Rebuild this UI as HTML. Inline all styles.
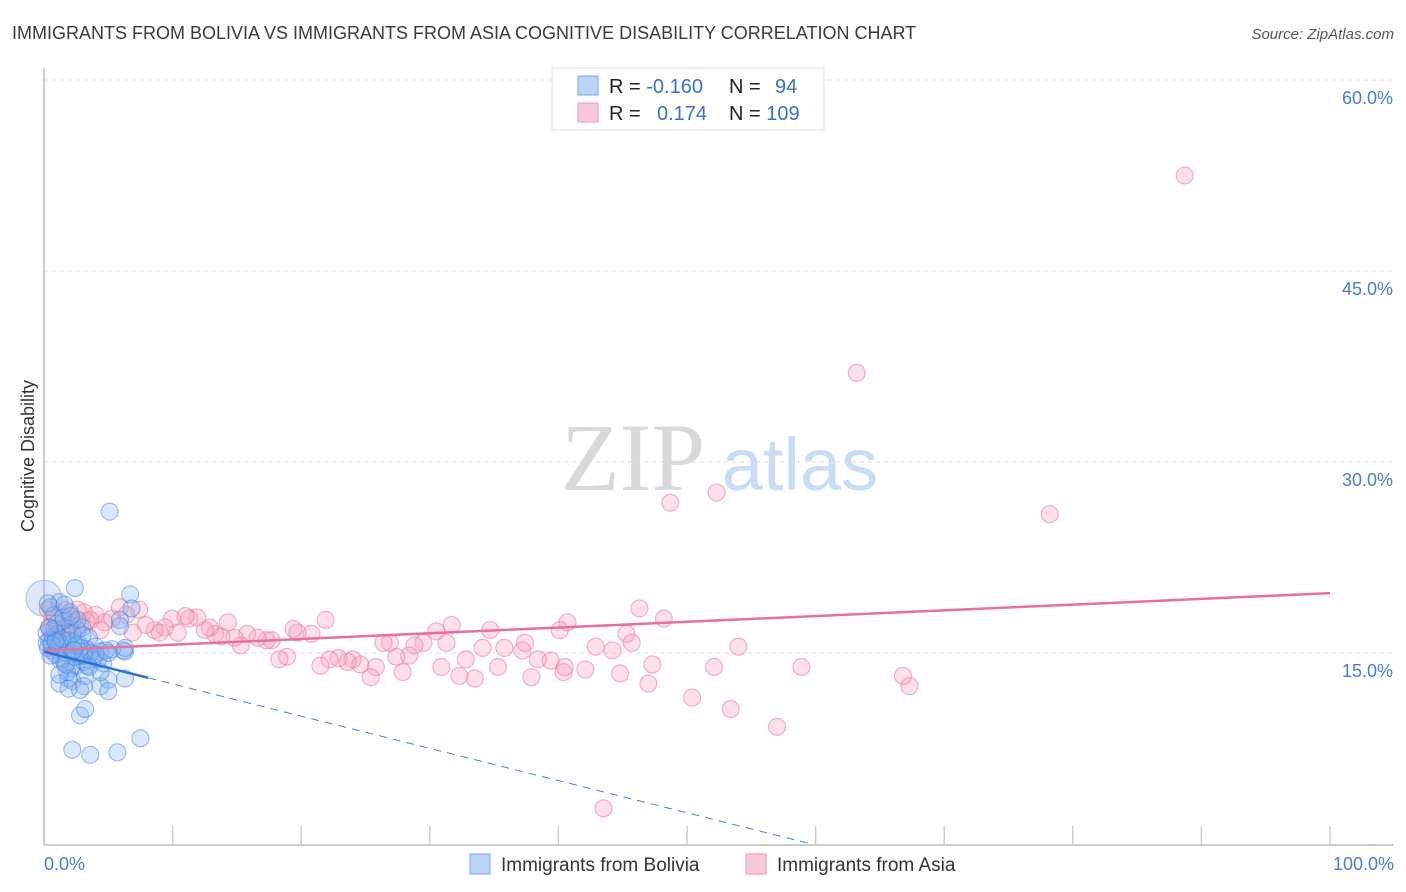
<!DOCTYPE html>
<html><head><meta charset="utf-8"><style>
body{margin:0;background:#fff;font-family:"Liberation Sans",sans-serif;}
svg{display:block}
</style></head><body>
<svg id="chart" width="1406" height="892" font-family="Liberation Sans, sans-serif">
<text x="12" y="39" font-size="18" fill="#3a3a3a">IMMIGRANTS FROM BOLIVIA VS IMMIGRANTS FROM ASIA COGNITIVE DISABILITY CORRELATION CHART</text>
<text x="1394" y="39" font-size="15" fill="#555" font-style="italic" text-anchor="end">Source: ZipAtlas.com</text>
<g>
<text x="633" y="490" font-size="96" fill="#d8d8d8" font-family="Liberation Serif, serif" text-anchor="middle">ZIP</text>
<text x="800" y="490" font-size="74" fill="#c9dcf3" text-anchor="middle">atlas</text>
</g>
<g id="grid"></g>
<g id="axes"></g>
<g id="marks"></g>
<g id="trends"></g>
<text transform="translate(34,456) rotate(-90)" font-size="18" fill="#333" text-anchor="middle">Cognitive Disability</text>
<text x="44" y="870" font-size="18" fill="#4a7bd4">0.0%</text>
<text x="1394" y="870" font-size="18" fill="#4a7bd4" text-anchor="end">100.0%</text>
<g>
<rect x="552" y="68" width="272" height="62" fill="#fff" stroke="#ddd"/>
<rect x="578" y="76" width="20" height="19" fill="#bcd4f6" stroke="#7aa6e6"/>
<rect x="578" y="103" width="20" height="19" fill="#f9c8d6" stroke="#ee9ab4"/>
<text x="609" y="93" font-size="20" fill="#222">R = <tspan fill="#3a6fd0">-0.160</tspan></text>
<text x="729" y="93" font-size="20" fill="#222">N = <tspan fill="#3a6fd0" x="775">94</tspan></text>
<text x="609" y="120" font-size="20" fill="#222">R = <tspan fill="#3a6fd0" x="657">0.174</tspan></text>
<text x="729" y="120" font-size="20" fill="#222">N = <tspan fill="#3a6fd0">109</tspan></text>
</g>
<g>
<rect x="470" y="854" width="20" height="20" fill="#bcd4f6" stroke="#7aa6e6"/>
<text x="501" y="871" font-size="19" fill="#333">Immigrants from Bolivia</text>
<rect x="746" y="854" width="20" height="20" fill="#f9c8d6" stroke="#ee9ab4"/>
<text x="777" y="871" font-size="19" fill="#333">Immigrants from Asia</text>
</g>
</svg>
<script>
const yTicks=[15,30,45,60];
const yTickLabels=["15.0%","30.0%","45.0%","60.0%"];
const xTicks=[10,20,30,40,50,60,70,80,90,100];
const blueX=[5.1,2.4,6.7,1.2,0.5,6.8,5.9,6.3,0.8,1.5,2.0,2.6,3.0,3.5,4.0,1.0,0.4,0.2,0.6,1.8,2.2,2.8,3.3,3.8,4.4,1.4,0.9,0.3,1.6,2.5,2.1,3.1,0.7,1.2,1.9,2.7,3.6,4.6,5.3,6.2,1.1,0.5,2.3,1.7,2.9,0.2,0.8,1.3,2.4,3.4,4.2,5.0,1.0,1.5,2.0,2.6,1.8,3.2,0.6,2.2,1.9,1.2,3.1,2.8,4.4,5.0,6.3,2.2,3.6,5.7,7.5,2.8,3.2,5.0,4.4,1.9,1.2,3.1,2.2,5.9,6.3,4.0,3.5,1.4,2.5,0.4,1.7,2.3,0.9,3.0,1.6,2.1,0.3,4.8];
const blueY=[26.1,20.1,19.6,19.0,18.6,18.5,17.6,15.1,18.0,17.5,17.2,16.8,17.0,16.2,15.5,16.5,16.0,15.8,15.2,15.6,15.0,14.8,15.3,14.5,15.1,14.6,14.9,15.4,14.2,14.0,13.8,14.3,16.3,15.9,16.0,15.7,15.0,14.2,15.3,15.2,15.5,14.8,15.8,15.0,15.4,16.6,16.9,14.4,14.7,14.0,14.5,15.0,17.3,17.8,18.2,17.6,13.5,13.2,15.7,12.8,13.0,12.6,12.4,12.1,12.4,12.9,13.0,7.4,7.0,7.2,8.3,10.1,10.6,12.0,13.5,12.2,13.3,14.8,16.5,17.1,15.4,14.9,13.9,16.1,15.6,17.0,14.1,15.2,15.9,16.4,18.8,17.9,18.9,15.2];
const pinkX=[88.7,63.2,52.3,48.7,78.2,43.5,57,53.4,50.4,67.3,66.8,58.9,52.1,54.0,48.2,46.3,45.3,45.7,44.2,42.9,40.7,40.1,39.4,37.9,37.2,37.4,35.8,35.3,34.1,34.7,33.5,32.3,32.8,31.7,31.3,30.5,30.9,29.5,28.8,28.4,27.9,27.4,26.9,26.4,25.8,25.4,24.6,24.0,23.6,22.9,22.2,21.5,21.9,20.8,19.7,19.4,18.9,18.3,17.7,17.3,16.6,15.8,15.3,14.8,14.3,13.8,13.3,12.9,12.5,11.9,11.3,11.0,10.4,9.95,9.4,9.0,8.6,7.9,7.4,6.9,6.4,5.9,5.3,4.7,4.0,3.6,3.1,2.6,2.2,1.7,1.2,0.8,0.5,0.3,0.9,1.6,2.8,4.4,47,47.3,44.8,42.1,40.4,38.4,40.5,1.0,2.0,3.3,0.4];
const pinkY=[52.5,37.0,27.6,26.8,25.9,2.8,9.2,10.6,11.5,12.4,13.2,13.9,13.9,15.5,17.7,18.5,16.5,15.8,15.2,15.5,17.4,16.8,14.4,13.1,15.2,15.8,15.4,13.9,15.4,16.8,13.0,13.2,14.5,17.2,15.8,16.7,13.9,15.8,15.6,14.8,13.5,14.7,15.8,15.8,13.9,13.1,14.1,14.5,14.3,14.6,14.5,14.0,17.6,16.5,16.6,16.9,14.7,14.5,16.0,16.0,16.2,16.5,15.6,16.2,17.4,16.3,16.5,17.0,16.8,17.8,17.7,17.9,16.6,17.7,17.0,16.6,16.8,17.2,18.4,16.6,18.0,18.6,17.7,17.4,18.0,17.6,18.2,18.4,17.6,18.4,17.2,17.7,16.8,18.4,16.0,17.0,17.2,16.8,12.6,14.1,13.4,13.7,13.5,14.5,13.9,16.5,16.9,17.5,17.0];
const blueTrend=[15.1,-0.253];
const pinkTrend=[15.2,0.045];
const NS="http://www.w3.org/2000/svg";
const X0=44,X1=1330,Y0=844,PXPER=191/15;
function sx(v){return X0+(X1-X0)*v/100;}
function sy(v){return Y0-v*PXPER;}
function mk(tag,attrs,parent){const e=document.createElementNS(NS,tag);for(const k in attrs)e.setAttribute(k,attrs[k]);parent.appendChild(e);return e;}
const grid=document.getElementById('grid'),axes=document.getElementById('axes'),marks=document.getElementById('marks'),trends=document.getElementById('trends');
yTicks.forEach((t,i)=>{
 const l=mk('line',{x1:X0,x2:1394,y1:sy(t),y2:sy(t),stroke:'#ddd','stroke-dasharray':'4,4'},grid);
 
 
 const tx=mk('text',{x:1393,y:sy(t)+24,'font-size':18,fill:'#4a7bd4','text-anchor':'end'},axes);
 tx.textContent=yTickLabels[i];
 
 
});
let a=mk('line',{x1:X0,x2:X0,y1:68,y2:Y0+1,stroke:'#bbb','stroke-width':1.5},axes);


a=mk('line',{x1:X0,x2:1394,y1:Y0+1,y2:Y0+1,stroke:'#bbb','stroke-width':1.5},axes);


xTicks.forEach(t=>{
 const l=mk('line',{x1:sx(t),x2:sx(t),y1:826,y2:Y0+1,stroke:'#ccc','stroke-width':1.5},axes);
 
 
});
let big=mk('circle',{cx:sx(0),cy:sy(19.3),r:18,fill:'rgba(140,180,240,0.3)',stroke:'rgba(80,135,225,0.45)'},marks);


pinkX.forEach((x,i)=>{
 const c=mk('circle',{cx:sx(x),cy:sy(pinkY[i]),r:8.5,fill:'rgba(245,160,185,0.33)',stroke:'rgba(235,120,155,0.55)','stroke-width':1.2},marks);
 
 
});
blueX.forEach((x,i)=>{
 const c=mk('circle',{cx:sx(x),cy:sy(blueY[i]),r:8.5,fill:'rgba(130,175,240,0.3)',stroke:'rgba(60,125,225,0.5)','stroke-width':1.1},marks);
 
 
});
let t=mk('line',{x1:sx(0),y1:sy(pinkTrend[0]),x2:sx(100),y2:sy(pinkTrend[0]+pinkTrend[1]*100),stroke:'#e8709a','stroke-width':2.5},trends);


const bEnd=8.1,bZero=-blueTrend[0]/blueTrend[1];
t=mk('line',{x1:sx(0),y1:sy(blueTrend[0]),x2:sx(bEnd),y2:sy(blueTrend[0]+blueTrend[1]*bEnd),stroke:'#2f6fd8','stroke-width':2.5},trends);


t=mk('line',{x1:sx(bEnd),y1:sy(blueTrend[0]+blueTrend[1]*bEnd),x2:sx(bZero),y2:sy(0),stroke:'#4a80dc','stroke-width':1,'stroke-dasharray':'8,6'},trends);


</script>
</body></html>
